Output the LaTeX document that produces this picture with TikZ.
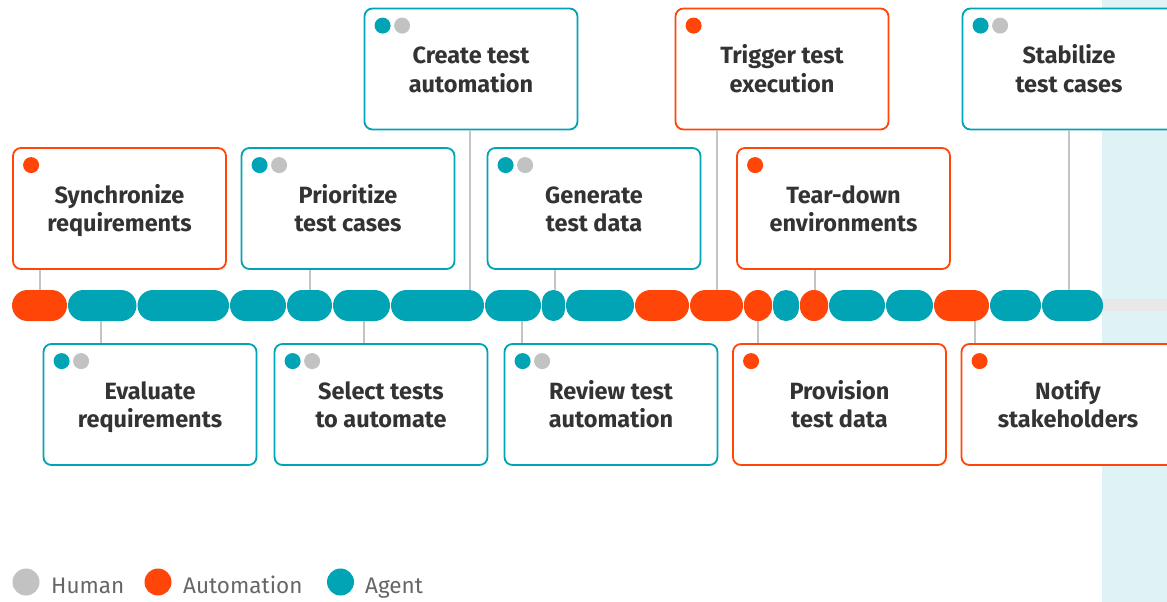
\documentclass[tikz,border=0pt]{standalone}
\usepackage{fontspec}
\setmainfont{Fira Sans}
\usetikzlibrary{calc}
\definecolor{cOrange}{HTML}{FF4608}
\definecolor{cTeal}{HTML}{00A4B4}
\definecolor{cGrey}{HTML}{C2C2C2}
\definecolor{cText}{HTML}{333333}
\definecolor{cLegend}{HTML}{666666}
\definecolor{cLine}{HTML}{C4C4C4}
\definecolor{cTrack}{HTML}{E8E8E8}
\definecolor{cPanel}{HTML}{DFF3F6}
\newcommand\seg[4]{\node[segbase,fill=#4,minimum width={(#3-#2)*1pt},rounded corners={min(#3-#2,31)/2*1pt}] (#1) at ({(#2+#3)/2},305.5) {};}
\newcommand\markone[2]{\node[bdot,fill=#2] (#1-d1) at ($(#1.north west)+(19,18)$) {};}
\newcommand\marktwo[1]{\node[bdot,fill=cTeal] (#1-d1) at ($(#1.north west)+(19,18)$) {};\node[bdot,fill=cGrey] (#1-d2) at ($(#1.north west)+(38.5,18)$) {};}
\newcommand\lbl[2]{\raisebox{-3.5pt}[\height][\depth]{\begin{tabular}{@{}c@{}}#1\\#2\end{tabular}}}
\begin{document}
\begin{tikzpicture}[x=1pt,y=-1pt,
 box/.style={draw, fill=white, line width=1.8pt, rounded corners=8pt, minimum width=213pt, minimum height=121pt, inner sep=0pt, align=center, text=cText, font=\fontsize{23.5}{28.5}\selectfont\bfseries},
 segbase/.style={rectangle, inner sep=0pt, outer sep=0pt, minimum height=31pt, draw=none},
 bdot/.style={circle, inner sep=0pt, outer sep=0pt, minimum size=16pt, draw=none},
 ldot/.style={circle, inner sep=0pt, outer sep=0pt, minimum size=27pt, draw=none},
 legtext/.style={anchor=base west, inner sep=0pt, text=cLegend, font=\fontsize{22.5}{26}\selectfont},
 conn/.style={draw=cLine, line width=1.3pt}]
\useasboundingbox (0,0) rectangle (1167,602);
% side panel and track
\fill[cPanel] (1102,0) rectangle (1167,602);
\node[segbase, fill=cTrack, minimum height=12pt, minimum width=80pt, anchor=west] (track) at (1090,305) {};
% boxes
\node[box, draw=cOrange] (sync) at (119.5,208.5) {\lbl{Synchronize}{requirements}};
\node[box, draw=cTeal] (prio) at (348,208.5) {\lbl{Prioritize}{test cases}};
\node[box, draw=cTeal] (create) at (471,69) {\lbl{Create test}{automation}};
\node[box, draw=cTeal] (gen) at (594,208.5) {\lbl{Generate}{test data}};
\node[box, draw=cOrange] (trig) at (782,69) {\lbl{Trigger test}{execution}};
\node[box, draw=cOrange] (tear) at (843.5,208.5) {\lbl{Tear-down}{environments}};
\node[box, draw=cTeal] (stab) at (1069,69) {\lbl{Stabilize}{test cases}};
\node[box, draw=cTeal] (eval) at (150,404.5) {\lbl{Evaluate}{requirements}};
\node[box, draw=cTeal] (sel) at (381,404.5) {\lbl{Select tests}{to automate}};
\node[box, draw=cTeal] (rev) at (611,404.5) {\lbl{Review test}{automation}};
\node[box, draw=cOrange] (prov) at (839.5,404.5) {\lbl{Provision}{test data}};
\node[box, draw=cOrange] (noti) at (1068,404.5) {\lbl{Notify}{stakeholders}};
% markers
\markone{sync}{cOrange}
\marktwo{prio}
\marktwo{create}
\marktwo{gen}
\markone{trig}{cOrange}
\markone{tear}{cOrange}
\marktwo{stab}
\marktwo{eval}
\marktwo{sel}
\marktwo{rev}
\markone{prov}{cOrange}
\markone{noti}{cOrange}
% timeline segments
\seg{s1}{12}{67}{cOrange}
\seg{s2}{68}{136.5}{cTeal}
\seg{s3}{137.5}{229}{cTeal}
\seg{s4}{230}{286}{cTeal}
\seg{s5}{287}{332}{cTeal}
\seg{s6}{333}{390}{cTeal}
\seg{s7}{391}{484}{cTeal}
\seg{s8}{485}{541}{cTeal}
\seg{s9}{542}{565}{cTeal}
\seg{s10}{566}{634}{cTeal}
\seg{s11}{635}{689}{cOrange}
\seg{s12}{690}{743}{cOrange}
\seg{s13}{744}{772}{cOrange}
\seg{s14}{773}{799}{cTeal}
\seg{s15}{800}{828}{cOrange}
\seg{s16}{829}{885}{cTeal}
\seg{s17}{886}{933}{cTeal}
\seg{s18}{934}{989}{cOrange}
\seg{s19}{990}{1041}{cTeal}
\seg{s20}{1042}{1103}{cTeal}
% connector end points
\coordinate (tsync) at (40,290);
\coordinate (tprio) at (310,290);
\coordinate (tcreate) at (470,290);
\coordinate (tgen) at (555,290);
\coordinate (ttrig) at (717,290);
\coordinate (ttear) at (815,290);
\coordinate (tstab) at (1069,290);
\coordinate (beval) at (101,321);
\coordinate (bsel) at (364,321);
\coordinate (brev) at (522,321);
\coordinate (bprov) at (758,321);
\coordinate (bnoti) at (975,321);
\foreach \b in {sync,prio,create,gen,trig,tear,stab}{\draw[conn] (t\b |- \b.south) -- (t\b);}
\foreach \b in {eval,sel,rev,prov,noti}{\draw[conn] (b\b |- \b.north) -- (b\b);}
% legend
\node[ldot, fill=cGrey] (lh) at (26,582) {};
\node[legtext] (lht) at (51,593) {Human};
\node[ldot, fill=cOrange] (la) at (158,582) {};
\node[legtext] (lat) at (183,593) {Automation};
\node[ldot, fill=cTeal] (lg) at (340.5,582) {};
\node[legtext] (lgt) at (365,593) {Agent};
\end{tikzpicture}
\end{document}
